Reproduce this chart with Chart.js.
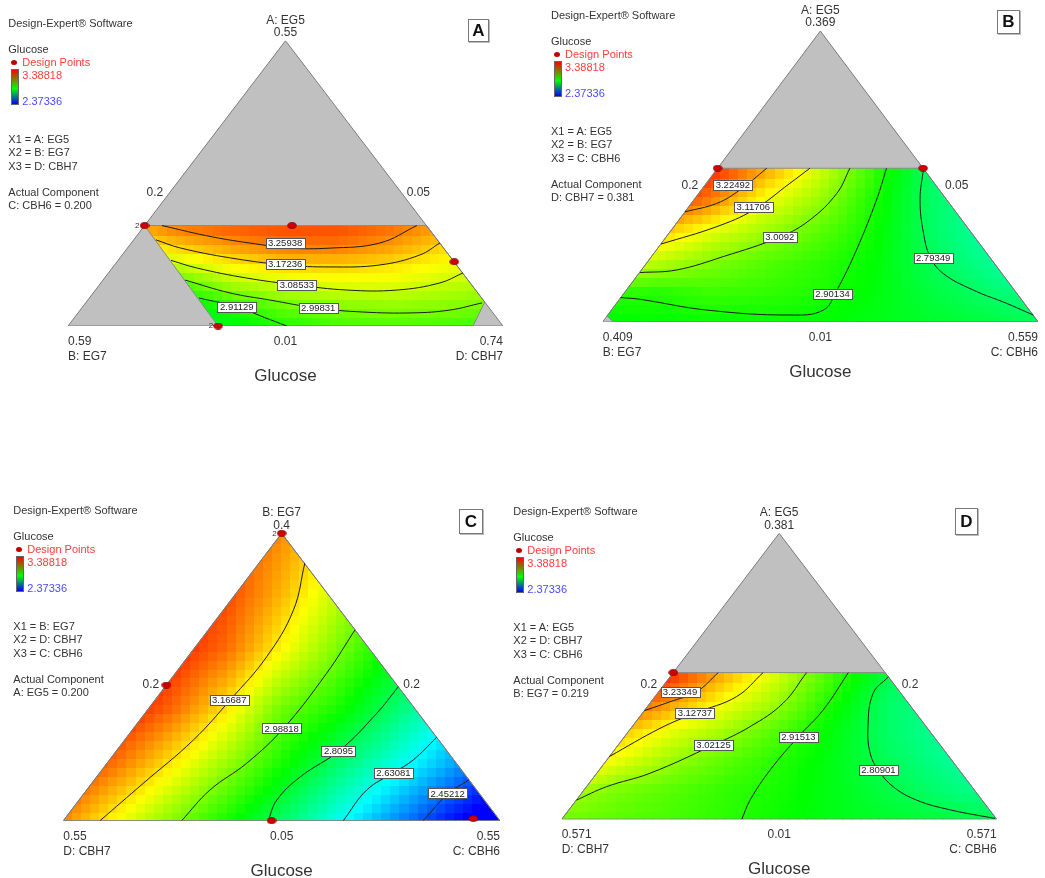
<!DOCTYPE html>
<html><head><meta charset="utf-8">
<script src="https://cdn.jsdelivr.net/npm/chart.js@4/dist/chart.umd.min.js"></script>
<style>
html,body{margin:0;padding:0;background:#fff;}
body{width:1045px;height:878px;position:relative;overflow:hidden;font-family:Arial,"Liberation Sans",sans-serif;}
canvas.panel{position:absolute;}
.t{position:absolute;white-space:nowrap;line-height:1;color:#333;}
.bar{position:absolute;border:1px solid #666;background:linear-gradient(#ff0000,#00ff00 55%,#0000ff);box-sizing:border-box;}
.dot{position:absolute;width:6px;height:5px;border-radius:50%;background:#c00000;}
.letter{position:absolute;border:1px solid #777;box-shadow:1px 1px 0 #bbb;background:#fff;font-weight:bold;font-size:17px;color:#111;display:flex;align-items:center;justify-content:center;box-sizing:border-box;}
</style></head><body>
<script>
// Response range shown on the colour bar
const GLUCOSE_LO = 2.37336, GLUCOSE_HI = 3.38818;

// Field grid columns (fraction along the base of each triangle)
const GRID_U = [0, 0.125, 0.25, 0.375, 0.5, 0.625, 0.75, 0.875, 1];

// ---- Plot A : A: EG5 / B: EG7 / D: CBH7 ----
const A_ROWS_V = [0, 0.07, 0.14, 0.21, 0.28, 0.35];
const A_FIELD = [
  [2.68, 2.73, 2.80, 2.86, 2.911, 2.95, 2.96, 2.95, 2.93],
  [2.74, 2.80, 2.85, 2.91, 2.985, 3.01, 3.02, 3.01, 2.99],
  [2.82, 2.88, 2.93, 3.03, 3.075, 3.095, 3.095, 3.065, 3.04],
  [2.94, 3.00, 3.06, 3.13, 3.167, 3.175, 3.155, 3.12, 3.09],
  [3.06, 3.12, 3.18, 3.23, 3.268, 3.265, 3.225, 3.17, 3.14],
  [3.15, 3.20, 3.27, 3.30, 3.315, 3.315, 3.28, 3.22, 3.18]
];
const A_REGION = [[0.176,0.352],[0.824,0.352],[0.958,0.084],[0.931,0],[0.345,0]];
const A_LEVELS = [3.25938, 3.17236, 3.08533, 2.99831, 2.91129];
const A_LINES = [
  [[0.216,0.352],[0.333,0.312],[0.448,0.284],[0.503,0.273],[0.602,0.273],[0.717,0.291],[0.802,0.352]],
  [[0.202,0.302],[0.257,0.274],[0.372,0.239],[0.499,0.214],[0.602,0.207],[0.717,0.214],[0.809,0.249],[0.855,0.291]],
  [[0.237,0.230],[0.297,0.203],[0.411,0.168],[0.526,0.144],[0.641,0.126],[0.756,0.126],[0.855,0.151],[0.908,0.186]],
  [[0.269,0.161],[0.372,0.116],[0.464,0.091],[0.572,0.063],[0.678,0.049],[0.793,0.046],[0.878,0.056],[0.952,0.081]],
  [[0.301,0.098],[0.389,0.067],[0.448,0.032],[0.503,0]]
];
const A_LABEL_AT = [[0.499,0.290],[0.499,0.217],[0.526,0.144],[0.575,0.062],[0.388,0.068]];
const A_POINTS = [[0.176,0.352],[0.515,0.352],[0.888,0.225],[0.345,0]];
const A_REPS = [2,1,1,2];
const A_TOP = ["A: EG5","0.55"], A_LEFT = ["0.59","B: EG7"], A_RIGHT = ["0.74","D: CBH7"], A_MID = "0.01", A_EDGE = ["0.2","0.05"];
const A_XS = ["X1 = A: EG5","X2 = B: EG7","X3 = D: CBH7"], A_ACTUAL = "C: CBH6 = 0.200";

// ---- Plot B : A: EG5 / B: EG7 / C: CBH6 ----
const B_ROWS_V = [0, 0.1056, 0.2112, 0.3168, 0.4224, 0.528];
const B_FIELD = [
  [2.87, 2.88, 2.885, 2.885, 2.88, 2.86, 2.84, 2.82, 2.80],
  [2.93, 2.915, 2.94, 2.93, 2.91, 2.87, 2.82, 2.78, 2.74],
  [3.15, 3.07, 3.009, 2.965, 2.925, 2.88, 2.80, 2.74, 2.68],
  [3.30, 3.20, 3.11, 3.04, 2.97, 2.893, 2.785, 2.72, 2.68],
  [3.42, 3.36, 3.26, 3.122, 3.03, 2.905, 2.785, 2.72, 2.68],
  [3.50, 3.45, 3.35, 3.226, 3.09, 2.936, 2.777, 2.72, 2.68]
];
const B_REGION = [[0.264,0.528],[0.736,0.528],[1,0],[0.024,0],[0.010,0.020]];
const B_LEVELS = [3.22492, 3.11706, 3.0092, 2.90134, 2.79349];
const B_LINES = [
  [[0.377,0.528],[0.315,0.453],[0.262,0.407],[0.189,0.378]],
  [[0.476,0.528],[0.430,0.476],[0.346,0.384],[0.262,0.327],[0.134,0.267]],
  [[0.568,0.528],[0.538,0.442],[0.476,0.350],[0.408,0.292],[0.277,0.224],[0.170,0.178],[0.086,0.169]],
  [[0.652,0.528],[0.629,0.419],[0.583,0.247],[0.538,0.109],[0.507,0.040],[0.430,0.023],[0.239,0.040],[0.086,0.077],[0.041,0.083]],
  [[0.737,0.528],[0.729,0.419],[0.737,0.304],[0.752,0.224],[0.782,0.166],[0.851,0.109],[0.928,0.063],[0.989,0.023]]
];
const B_LABEL_AT = [[0.299,0.470],[0.346,0.394],[0.407,0.292],[0.528,0.095],[0.759,0.220]];
const B_POINTS = [[0.264,0.528],[0.736,0.528]];
const B_REPS = [1,1];
const B_TOP = ["A: EG5","0.369"], B_LEFT = ["0.409","B: EG7"], B_RIGHT = ["0.559","C: CBH6"], B_MID = "0.01", B_EDGE = ["0.2","0.05"];
const B_XS = ["X1 = A: EG5","X2 = B: EG7","X3 = C: CBH6"], B_ACTUAL = "D: CBH7 = 0.381";

// ---- Plot C : B: EG7 / D: CBH7 / C: CBH6 ----
const C_ROWS_V = [0, 0.2, 0.4, 0.6, 0.8, 1];
const C_FIELD = [
  [3.25, 3.125, 3.01, 2.90, 2.78, 2.647, 2.525, 2.40, 2.30],
  [3.36, 3.27, 3.154, 3.032, 2.904, 2.779, 2.667, 2.555, 2.44],
  [3.45, 3.38, 3.29, 3.162, 2.995, 2.91, 2.79, 2.66, 2.54],
  [3.45, 3.42, 3.36, 3.28, 3.14, 3.005, 2.88, 2.76, 2.64],
  [3.45, 3.42, 3.38, 3.32, 3.21, 3.08, 2.96, 2.85, 2.74],
  [3.45, 3.42, 3.38, 3.32, 3.25, 3.15, 3.05, 2.95, 2.85]
];
const C_REGION = [[0.5,1],[1,0],[0,0]];
const C_LEVELS = [3.16687, 2.98818, 2.8095, 2.63081, 2.45212];
const C_LINES = [
  [[0.553,0.896],[0.527,0.733],[0.466,0.571],[0.382,0.420],[0.298,0.281],[0.183,0.130],[0.084,0]],
  [[0.668,0.664],[0.603,0.513],[0.504,0.321],[0.420,0.200],[0.336,0.107],[0.271,0]],
  [[0.767,0.466],[0.718,0.374],[0.634,0.246],[0.543,0.153],[0.489,0.072],[0.469,0]],
  [[0.855,0.290],[0.801,0.211],[0.756,0.167],[0.695,0.107],[0.641,0]],
  [[0.929,0.142],[0.882,0.095],[0.824,0]]
];
const C_LABEL_AT = [[0.380,0.420],[0.500,0.321],[0.630,0.244],[0.756,0.167],[0.880,0.095]];
const C_POINTS = [[0.5,1],[0.236,0.472],[0.477,0],[0.939,0.008]];
const C_REPS = [2,1,1,1];
const C_TOP = ["B: EG7","0.4"], C_LEFT = ["0.55","D: CBH7"], C_RIGHT = ["0.55","C: CBH6"], C_MID = "0.05", C_EDGE = ["0.2","0.2"];
const C_XS = ["X1 = B: EG7","X2 = D: CBH7","X3 = C: CBH6"], C_ACTUAL = "A: EG5 = 0.200";

// ---- Plot D : A: EG5 / D: CBH7 / C: CBH6 ----
const D_ROWS_V = [0, 0.1026, 0.2052, 0.3078, 0.4104, 0.513];
const D_FIELD = [
  [2.99, 2.97, 2.95, 2.925, 2.89, 2.86, 2.84, 2.825, 2.81],
  [3.06, 3.00, 2.965, 2.93, 2.90, 2.86, 2.815, 2.77, 2.73],
  [3.22, 3.11, 3.03, 2.97, 2.914, 2.86, 2.795, 2.74, 2.70],
  [3.34, 3.20, 3.11, 3.04, 2.955, 2.87, 2.78, 2.73, 2.70],
  [3.45, 3.34, 3.233, 3.125, 3.03, 2.90, 2.78, 2.73, 2.70],
  [3.50, 3.45, 3.35, 3.217, 3.09, 2.95, 2.81, 2.74, 2.70]
];
const D_REGION = [[0.2565,0.513],[0.7435,0.513],[1,0],[0,0]];
const D_LEVELS = [3.23349, 3.12737, 3.02125, 2.91513, 2.80901];
const D_LINES = [
  [[0.360,0.513],[0.310,0.446],[0.249,0.411],[0.190,0.380]],
  [[0.463,0.513],[0.402,0.429],[0.306,0.371],[0.226,0.318],[0.109,0.219]],
  [[0.563,0.513],[0.509,0.406],[0.433,0.324],[0.349,0.260],[0.203,0.161],[0.103,0.114],[0.034,0.067]],
  [[0.659,0.513],[0.601,0.382],[0.544,0.289],[0.479,0.172],[0.433,0.067],[0.414,0]],
  [[0.751,0.498],[0.716,0.441],[0.704,0.324],[0.709,0.231],[0.728,0.172],[0.762,0.114],[0.816,0.067],[0.893,0.033],[0.996,0.003]]
];
const D_LABEL_AT = [[0.272,0.446],[0.306,0.371],[0.349,0.260],[0.544,0.289],[0.728,0.172]];
const D_POINTS = [[0.2565,0.513]];
const D_REPS = [1];
const D_TOP = ["A: EG5","0.381"], D_LEFT = ["0.571","D: CBH7"], D_RIGHT = ["0.571","C: CBH6"], D_MID = "0.01", D_EDGE = ["0.2","0.2"];
const D_XS = ["X1 = A: EG5","X2 = D: CBH7","X3 = C: CBH6"], D_ACTUAL = "B: EG7 = 0.219";

// Panel layout: canvas box, triangle bounds (x left, x right, apex y, base y), text anchors
const PANELS = [
  {key:'A', box:[0,0,522,439], tri:[68,503,40.7,326], rows:A_ROWS_V, field:A_FIELD, region:A_REGION,
   levels:A_LEVELS, lines:A_LINES, labelAt:A_LABEL_AT, points:A_POINTS, reps:A_REPS,
   top:A_TOP, left:A_LEFT, right:A_RIGHT, mid:A_MID, edge:A_EDGE, edgePos:[163.3,406.7,191.7],
   side:[8.3,23.3], xs:A_XS, actual:A_ACTUAL, letterBox:[468,19,21,23]},
  {key:'B', box:[522,0,523,439], tri:[602.7,1038,31,321.7], rows:B_ROWS_V, field:B_FIELD, region:B_REGION,
   levels:B_LEVELS, lines:B_LINES, labelAt:B_LABEL_AT, points:B_POINTS, reps:B_REPS,
   top:B_TOP, left:B_LEFT, right:B_RIGHT, mid:B_MID, edge:B_EDGE, edgePos:[698.3,945,185],
   side:[551,15], xs:B_XS, actual:B_ACTUAL, letterBox:[997,10,23,24]},
  {key:'C', box:[0,439,522,439], tri:[63.3,500,533.3,820.7], rows:C_ROWS_V, field:C_FIELD, region:C_REGION,
   levels:C_LEVELS, lines:C_LINES, labelAt:C_LABEL_AT, points:C_POINTS, reps:C_REPS,
   top:C_TOP, left:C_LEFT, right:C_RIGHT, mid:C_MID, edge:C_EDGE, edgePos:[159.3,403.3,684.3],
   side:[13.3,510], xs:C_XS, actual:C_ACTUAL, letterBox:[459,509,24,25]},
  {key:'D', box:[522,439,523,439], tri:[561.7,996.7,533.3,819.3], rows:D_ROWS_V, field:D_FIELD, region:D_REGION,
   levels:D_LEVELS, lines:D_LINES, labelAt:D_LABEL_AT, points:D_POINTS, reps:D_REPS,
   top:D_TOP, left:D_LEFT, right:D_RIGHT, mid:D_MID, edge:D_EDGE, edgePos:[657.3,901.7,684],
   side:[513.3,511], xs:D_XS, actual:D_ACTUAL, letterBox:[955,508,23,27]}
];

const FONT = 'Arial, "Liberation Sans", sans-serif';

// blue -> cyan -> green -> yellow -> red
function heat(val){
  let t = (val - GLUCOSE_LO) / (GLUCOSE_HI - GLUCOSE_LO);
  t = Math.max(0, Math.min(1, t));
  const stops = [[0,0,0,255],[0.25,0,255,255],[0.5,0,255,0],[0.75,255,255,0],[1,255,0,0]];
  for (let k = 1; k < stops.length; k++) {
    if (t <= stops[k][0]) {
      const a = stops[k-1], b = stops[k], f = (t - a[0]) / (b[0] - a[0]);
      return 'rgb(' + [1,2,3].map(c => Math.round(a[c] + f * (b[c] - a[c]))).join(',') + ')';
    }
  }
  return 'rgb(255,0,0)';
}

// bilinear lookup in a panel's value grid
function sample(p, u, v){
  const rows = p.rows, nu = GRID_U.length;
  u = Math.max(0, Math.min(1, u));
  v = Math.max(rows[0], Math.min(rows[rows.length-1], v));
  let i = 0; while (i < nu - 2 && u > GRID_U[i+1]) i++;
  let j = 0; while (j < rows.length - 2 && v > rows[j+1]) j++;
  const fu = (u - GRID_U[i]) / (GRID_U[i+1] - GRID_U[i]);
  const fv = (v - rows[j]) / (rows[j+1] - rows[j]);
  const z = p.field;
  const a = z[j][i] * (1 - fu) + z[j][i+1] * fu;
  const b = z[j+1][i] * (1 - fu) + z[j+1][i+1] * fu;
  return a * (1 - fv) + b * fv;
}

// design point marker
const dotImg = document.createElement('canvas');
dotImg.width = 10; dotImg.height = 7;
(function(){
  const g = dotImg.getContext('2d');
  g.beginPath(); g.ellipse(5, 3.5, 4.3, 2.9, 0, 0, Math.PI * 2);
  g.fillStyle = '#d40000'; g.fill();
  g.lineWidth = 0.8; g.strokeStyle = '#7a0000'; g.stroke();
})();

function makePlugin(p){
  return {
    id: 'mixture' + p.key,
    afterDatasetDraw(chart, args){
      if (args.index !== 0) return;
      const ctx = chart.ctx, sx = chart.scales.x, sy = chart.scales.y;
      ctx.save();
      ctx.beginPath();
      p.region.forEach((q, k) => {
        const X = sx.getPixelForValue(q[0]), Y = sy.getPixelForValue(q[1]);
        if (k) ctx.lineTo(X, Y); else ctx.moveTo(X, Y);
      });
      ctx.closePath();
      ctx.clip();
      const vTop = Math.max(...p.region.map(q => q[1]));
      const NU = 48;
      const cell = (sx.getPixelForValue(1) - sx.getPixelForValue(0)) / NU;
      const NV = Math.max(1, Math.round((sy.getPixelForValue(0) - sy.getPixelForValue(vTop)) / cell));
      for (let i = 0; i < NU; i++) {
        const u0 = i / NU, u1 = (i + 1) / NU;
        const X0 = Math.floor(sx.getPixelForValue(u0)), X1 = Math.ceil(sx.getPixelForValue(u1));
        for (let j = 0; j < NV; j++) {
          const v0 = j * vTop / NV, v1 = (j + 1) * vTop / NV;
          const Y0 = Math.ceil(sy.getPixelForValue(v0)), Y1 = Math.floor(sy.getPixelForValue(v1));
          ctx.fillStyle = heat(sample(p, (u0 + u1) / 2, (v0 + v1) / 2));
          ctx.fillRect(X0, Y1, X1 - X0 + 1, Y0 - Y1 + 1);
        }
      }
      ctx.restore();
    },
    afterDatasetsDraw(chart){
      const ctx = chart.ctx, sx = chart.scales.x, sy = chart.scales.y;
      ctx.save();
      ctx.font = '9.5px ' + FONT;
      ctx.textAlign = 'center';
      ctx.textBaseline = 'middle';
      p.levels.forEach((lv, k) => {
        const txt = String(lv);
        const X = sx.getPixelForValue(p.labelAt[k][0]), Y = sy.getPixelForValue(p.labelAt[k][1]);
        const w = Math.round(ctx.measureText(txt).width + 5), h = 10;
        const bx = Math.round(X - w / 2) + 0.5, by = Math.round(Y - h / 2) + 0.5;
        ctx.fillStyle = '#fff';
        ctx.fillRect(bx, by, w, h);
        ctx.lineWidth = 1; ctx.strokeStyle = '#555';
        ctx.strokeRect(bx, by, w, h);
        ctx.fillStyle = '#222';
        ctx.fillText(txt, X, Y + 0.5);
      });
      ctx.font = '8px ' + FONT;
      ctx.textAlign = 'right';
      ctx.fillStyle = '#333';
      p.points.forEach((q, k) => {
        if (p.reps[k] > 1) {
          ctx.fillText(String(p.reps[k]), sx.getPixelForValue(q[0]) - 5, sy.getPixelForValue(q[1]));
        }
      });
      ctx.restore();
    }
  };
}

const xy = arr => arr.map(q => ({x: q[0], y: q[1]}));

function text(x, y, s, size, align, color, weight){
  const d = document.createElement('div');
  d.className = 't';
  d.textContent = s;
  d.style.left = x + 'px';
  d.style.top = y + 'px';
  d.style.fontSize = size + 'px';
  if (color) d.style.color = color;
  if (weight) d.style.fontWeight = weight;
  const tx = align === 'center' ? '-50%' : align === 'right' ? '-100%' : '0';
  d.style.transform = 'translate(' + tx + ',-50%)';
  document.body.appendChild(d);
}

function buildPanel(p){
  const [bl, bt, bw, bh] = p.box;
  const [x0, x1, yA, yB] = p.tri;
  const cv = document.createElement('canvas');
  cv.className = 'panel';
  cv.width = bw; cv.height = bh;
  cv.style.left = bl + 'px'; cv.style.top = bt + 'px';
  cv.style.width = bw + 'px'; cv.style.height = bh + 'px';
  document.body.appendChild(cv);

  const datasets = [
    // constrained-out part of the simplex (gray)
    {data: xy([[0,0],[0.5,1],[1,0]]), showLine: true, fill: 'origin', backgroundColor: '#c0c0c0',
     borderWidth: 0, pointRadius: 0, tension: 0, order: 10},
    // feasible region outline
    {data: xy(p.region.concat([p.region[0]])), showLine: true, fill: false, borderColor: '#8a8a8a',
     borderWidth: 1, pointRadius: 0, tension: 0, order: 4},
    // simplex outline
    {data: xy([[0,0],[0.5,1],[1,0],[0,0]]), showLine: true, fill: false, borderColor: '#7c7c7c',
     borderWidth: 1, pointRadius: 0, tension: 0, order: 3}
  ];
  p.lines.forEach(line => datasets.push({
    data: xy(line), showLine: true, fill: false, borderColor: '#1c1c1c', borderWidth: 1,
    pointRadius: 0, tension: 0.4, order: 2
  }));
  datasets.push({data: xy(p.points), showLine: false, pointStyle: dotImg, pointRadius: 4, order: 1, clip: false});

  new Chart(cv, {
    type: 'scatter',
    data: {datasets},
    options: {
      responsive: false, animation: false, events: [],
      devicePixelRatio: 1,
      layout: {padding: {left: x0 - bl, right: bl + bw - x1, top: yA - bt, bottom: bt + bh - yB}},
      scales: {
        x: {type: 'linear', min: 0, max: 1, display: false},
        y: {type: 'linear', min: 0, max: 1, display: false}
      },
      plugins: {legend: {display: false}, tooltip: {enabled: false}}
    },
    plugins: [makePlugin(p)]
  });

  // vertex, edge and axis texts
  const xm = (x0 + x1) / 2;
  text(xm, yA - 21, p.top[0], 12, 'center', '#333');
  text(xm, yA - 8.7, p.top[1], 12, 'center', '#333');
  text(x0, yB + 15, p.left[0], 12, 'left', '#333');
  text(x0, yB + 30, p.left[1], 12, 'left', '#333');
  text(xm, yB + 15, p.mid, 12, 'center', '#333');
  text(x1, yB + 15, p.right[0], 12, 'right', '#333');
  text(x1, yB + 30, p.right[1], 12, 'right', '#333');
  text(xm, yB + 49, 'Glucose', 17, 'center', '#333');
  text(p.edgePos[0], p.edgePos[2], p.edge[0], 12, 'right', '#333');
  text(p.edgePos[1], p.edgePos[2], p.edge[1], 12, 'left', '#333');

  // side legend block
  const [sx, sy] = p.side;
  text(sx, sy, 'Design-Expert\u00ae Software', 11, 'left', '#333');
  text(sx, sy + 26, 'Glucose', 11, 'left', '#333');
  const dot = document.createElement('div');
  dot.className = 'dot';
  dot.style.left = (sx + 3) + 'px'; dot.style.top = (sy + 36.5) + 'px';
  document.body.appendChild(dot);
  text(sx + 14, sy + 39, 'Design Points', 11, 'left', '#ff3b3b');
  const bar = document.createElement('div');
  bar.className = 'bar';
  bar.style.left = (sx + 3) + 'px'; bar.style.top = (sy + 46) + 'px';
  bar.style.width = '8px'; bar.style.height = '36px';
  document.body.appendChild(bar);
  text(sx + 14, sy + 52, String(GLUCOSE_HI), 11, 'left', '#ff3b3b');
  text(sx + 14, sy + 78, String(GLUCOSE_LO), 11, 'left', '#4a4aff');
  text(sx, sy + 116, p.xs[0], 11, 'left', '#333');
  text(sx, sy + 129, p.xs[1], 11, 'left', '#333');
  text(sx, sy + 143, p.xs[2], 11, 'left', '#333');
  text(sx, sy + 169, 'Actual Component', 11, 'left', '#333');
  text(sx, sy + 182, p.actual, 11, 'left', '#333');

  // panel letter
  const lb = document.createElement('div');
  lb.className = 'letter';
  lb.textContent = p.key;
  lb.style.left = p.letterBox[0] + 'px'; lb.style.top = p.letterBox[1] + 'px';
  lb.style.width = p.letterBox[2] + 'px'; lb.style.height = p.letterBox[3] + 'px';
  document.body.appendChild(lb);
}

PANELS.forEach(buildPanel);
</script>
</body></html>
